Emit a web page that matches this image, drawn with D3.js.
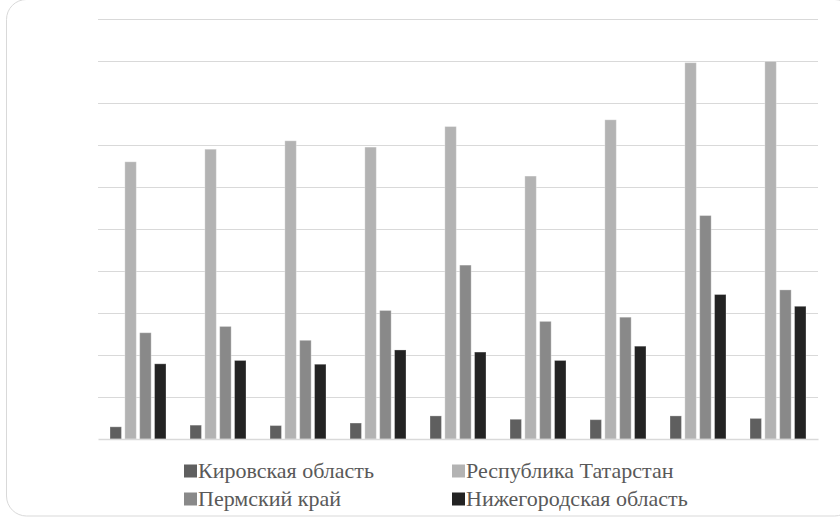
<!DOCTYPE html>
<html>
<head>
<meta charset="utf-8">
<script src="https://cdn.jsdelivr.net/npm/d3@7"></script>
</head>
<body style="margin:0">
<svg id="viz" width="840" height="524"></svg>
<script>
// ---- data ----
const categories = ["1", "2", "3", "4", "5", "6", "7", "8", "9"];
const seriesNames = ["Кировская область", "Республика Татарстан", "Пермский край", "Нижегородская область"];
const kirov     = [0.29, 0.33, 0.32, 0.38, 0.55, 0.47, 0.46, 0.55, 0.49];
const tatarstan = [6.60, 6.90, 7.10, 6.95, 7.44, 6.26, 7.60, 8.96, 8.99];
const perm      = [2.53, 2.68, 2.35, 3.06, 4.14, 2.80, 2.90, 5.32, 3.55];
const nizhny    = [1.79, 1.87, 1.78, 2.12, 2.07, 1.87, 2.21, 3.44, 3.16];
const seriesValues = [kirov, tatarstan, perm, nizhny];
const gridTicks = [1, 2, 3, 4, 5, 6, 7, 8, 9, 10];
const colors = ["#5f5f5f", "#b3b3b3", "#898989", "#232323"];

// ---- layout ----
const svg = d3.select("#viz");
const plot = { left: 98, right: 818, top: 19, bottom: 439 };

// outer frame
svg.append("rect")
  .attr("x", 6.5).attr("y", -0.5)
  .attr("width", 848).attr("height", 516.5)
  .attr("rx", 20).attr("ry", 20)
  .attr("fill", "none").attr("stroke", "#d9d9d9").attr("stroke-width", 1);

const y = d3.scaleLinear().domain([0, 10]).range([plot.bottom, plot.top]);
const x = d3.scaleBand().domain(categories).range([plot.left, plot.right]).paddingInner(0).paddingOuter(0);
const xs = d3.scaleBand().domain(d3.range(seriesNames.length))
  .range([12, x.bandwidth() - 12]).paddingInner(0.227).paddingOuter(0);

// gridlines
const yAxis = d3.axisLeft(y).tickValues(gridTicks).tickSize(-(plot.right - plot.left)).tickFormat("");
const gy = svg.append("g").attr("transform", `translate(${plot.left},0)`).call(yAxis);
gy.select(".domain").remove();
gy.selectAll(".tick line").attr("stroke", "#d9d9d9").attr("stroke-width", 1);

// bars
const groups = svg.append("g").selectAll("g")
  .data(categories)
  .join("g")
  .attr("transform", d => `translate(${x(d)},0)`);

groups.selectAll("rect")
  .data((c, ci) => seriesValues.map((vals, si) => ({ si, v: vals[ci] })))
  .join("rect")
  .attr("x", d => xs(d.si))
  .attr("width", xs.bandwidth())
  .attr("y", d => y(d.v))
  .attr("height", d => y(0) - y(d.v))
  .attr("fill", d => colors[d.si])
  .attr("stroke", "#ffffff").attr("stroke-opacity", 0.3).attr("stroke-width", 1);

// category axis line (baseline)
const xAxis = d3.axisBottom(x).tickSize(0).tickFormat("");
const gx = svg.append("g").attr("transform", `translate(0,${plot.bottom})`).call(xAxis);
gx.select(".domain").attr("stroke", "#d9d9d9").attr("stroke-width", 1.5);

// legend (text placed directly under the svg root)
const legendPos = [
  { x: 184, y: 477.5 }, { x: 452, y: 477.5 },
  { x: 184, y: 505.5 }, { x: 452, y: 505.5 }
];
svg.selectAll("rect.legend-key")
  .data(seriesNames)
  .join("rect")
  .attr("class", "legend-key")
  .attr("x", (d, i) => legendPos[i].x)
  .attr("y", (d, i) => legendPos[i].y - 13)
  .attr("width", 13).attr("height", 13)
  .attr("fill", (d, i) => colors[i]);
svg.selectAll("text.legend-label")
  .data(seriesNames)
  .join("text")
  .attr("class", "legend-label")
  .attr("x", (d, i) => legendPos[i].x + 14)
  .attr("y", (d, i) => legendPos[i].y)
  .style("font-family", '"Liberation Serif"')
  .style("font-size", "22px")
  .style("fill", "#595959")
  .text(d => d);
</script>
</body>
</html>
